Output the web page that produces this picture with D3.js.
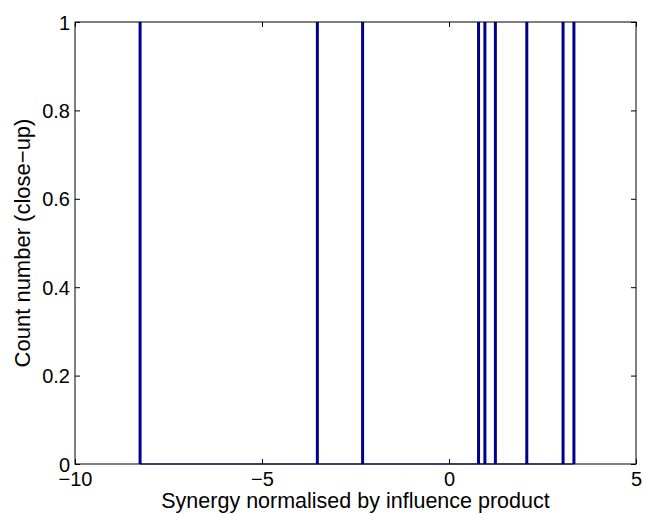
<!DOCTYPE html>
<html><head><meta charset="utf-8">
<script src="https://cdn.jsdelivr.net/npm/d3@7"></script>
<style>body{margin:0;background:#fff}svg{display:block}text{font-family:"Liberation Sans",Arial,sans-serif;fill:#000}</style>
</head><body>
<script>
const values = [-8.26, -3.52, -2.31, 0.79, 0.96, 1.24, 2.08, 3.05, 3.34];
const counts = [1, 1, 1, 1, 1, 1, 1, 1, 1];
const xTicks = [-10, -5, 0, 5];
const yTicks = [0, 0.2, 0.4, 0.6, 0.8, 1];
const xLabel = "Synergy normalised by influence product";
const yLabel = "Count number (close\u2212up)";

const W = 647, H = 514;
const m = {l: 75, r: 11, t: 22, b: 50};
const svg = d3.select("body").append("svg").attr("width", W).attr("height", H);
const x = d3.scaleLinear().domain([-10, 5]).range([m.l, W - m.r]);
const y = d3.scaleLinear().domain([0, 1]).range([H - m.b, m.t]);

const fmt = d => d < 0 ? "\u2212" + Math.abs(d) : String(d);

// baseline of zero-count bins
svg.append("line")
  .attr("x1", x(d3.min(values))).attr("x2", x(d3.max(values)))
  .attr("y1", y(0)).attr("y2", y(0))
  .attr("stroke", "#00008f").attr("stroke-width", 1.2);

svg.selectAll("rect.bar").data(values).enter().append("rect")
  .attr("class", "bar")
  .attr("x", d => x(d) - 1.5).attr("width", 3)
  .attr("y", (d, i) => y(counts[i]))
  .attr("height", (d, i) => y(0) - y(counts[i]))
  .attr("fill", "#00008f");

// box
svg.append("rect").attr("x", m.l).attr("y", m.t)
  .attr("width", W - m.r - m.l).attr("height", H - m.b - m.t)
  .attr("fill", "none").attr("stroke", "#000").attr("stroke-width", 1);

const tl = 5;
const gx = svg.append("g").attr("transform", `translate(0,${H - m.b})`)
  .call(d3.axisBottom(x).tickValues(xTicks).tickSize(-tl).tickPadding(8).tickFormat(fmt));
const gxt = svg.append("g").attr("transform", `translate(0,${m.t})`)
  .call(d3.axisTop(x).tickValues(xTicks).tickSize(-tl).tickFormat(""));
const gy = svg.append("g").attr("transform", `translate(${m.l},0)`)
  .call(d3.axisLeft(y).tickValues(yTicks).tickSize(-tl).tickPadding(5).tickFormat(d => d3.format("~g")(d)));
const gyr = svg.append("g").attr("transform", `translate(${W - m.r},0)`)
  .call(d3.axisRight(y).tickValues(yTicks).tickSize(-tl).tickFormat(""));
[gx, gxt, gy, gyr].forEach(g => {
  g.select(".domain").remove();
  g.selectAll("line").attr("stroke", "#000");
  g.selectAll("text").style("font-size", "20px").attr("fill", "#000");
});
gy.selectAll("text").attr("dy", "0.35em");

svg.append("text").attr("x", (m.l + W - m.r) / 2).attr("y", 508)
  .attr("text-anchor", "middle").style("font-size", "21.5px").text(xLabel);
svg.append("text").attr("transform", `translate(30,${(m.t + H - m.b) / 2}) rotate(-90)`)
  .attr("text-anchor", "middle").style("font-size", "22px").text(yLabel);
</script>
</body></html>
